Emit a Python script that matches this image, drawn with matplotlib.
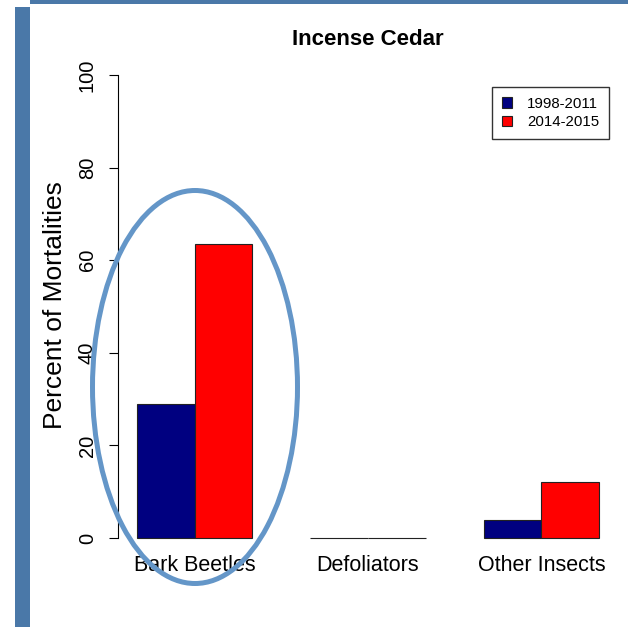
import matplotlib
matplotlib.use('Agg')
import matplotlib.pyplot as plt
from matplotlib.patches import Patch, Ellipse, Rectangle

plt.rcParams['font.family'] = ['Liberation Sans', 'DejaVu Sans']

# data
categories = ['Bark Beetles', 'Defoliators', 'Other Insects']
period_labels = ['1998-2011', '2014-2015']
pct_1998_2011 = [28.9, 0.0, 3.8]
pct_2014_2015 = [63.5, 0.0, 12.2]
y_ticks = [0, 20, 40, 60, 80, 100]

colors = ['#000080', '#ff0000']
W, H = 628, 627

fig = plt.figure(figsize=(W / 100, H / 100), dpi=100)

# slide decoration: blue frame pieces
fig.patches.append(Rectangle((15 / W, 0), 15 / W, 1 - 7 / H, transform=fig.transFigure,
                             facecolor='#4a78a8', edgecolor='none'))
fig.patches.append(Rectangle((30 / W, 1 - 4 / H), 1, 4 / H, transform=fig.transFigure,
                             facecolor='#4a78a8', edgecolor='none'))

ax = fig.add_axes([118.4 / W, 1 - 556.5 / H, 499.2 / W, 500 / H])

# R-style barplot(beside=TRUE): groups of width 2 separated by 1
lefts = [1 + 3 * i for i in range(len(categories))]
ax.bar([l + 0.5 for l in lefts], pct_1998_2011, width=1, color=colors[0],
       edgecolor='#222222', linewidth=0.8)
ax.bar([l + 1.5 for l in lefts], pct_2014_2015, width=1, color=colors[1],
       edgecolor='#222222', linewidth=0.8)

ax.set_xlim(0.68, 9.32)
ax.set_ylim(-4, 104)

for s in ['top', 'right', 'bottom']:
    ax.spines[s].set_visible(False)
ax.spines['left'].set_bounds(0, 100)
ax.spines['left'].set_linewidth(0.8)

ax.set_yticks(y_ticks)
ax.set_yticklabels([str(t) for t in y_ticks], rotation=90, va='center')
ax.tick_params(axis='y', length=6.5, width=0.8, pad=9, labelsize=14.5)

ax.set_xticks([l + 1 for l in lefts])
ax.set_xticklabels(categories)
ax.tick_params(axis='x', length=0, pad=-1, labelsize=15.5)

ax.set_title('Incense Cedar', fontsize=16, fontweight='bold', pad=8)
fig.text(55 / W, 1 - 305 / H, 'Percent of Mortalities', rotation=90,
         ha='center', va='center', fontsize=19)

handles = [Patch(facecolor=c, edgecolor='#222222', linewidth=0.8) for c in colors]
ax.legend(handles, period_labels, loc='upper right',
          bbox_to_anchor=(609 / W, 1 - 87 / H), bbox_transform=fig.transFigure,
          borderaxespad=0, fancybox=False, framealpha=1, edgecolor='#333333',
          fontsize=10.8, handlelength=0.67, handleheight=0.67, handletextpad=1.0,
          labelspacing=0.3, borderpad=0.65)

# highlight ellipse around the bark beetle bars
fig.patches.append(Ellipse((195 / W, 1 - 387 / H), 205 / W, 393 / H,
                           transform=fig.transFigure, fill=False,
                           edgecolor='#6496c8', linewidth=3.6))

fig.savefig('out.png', dpi=100)
